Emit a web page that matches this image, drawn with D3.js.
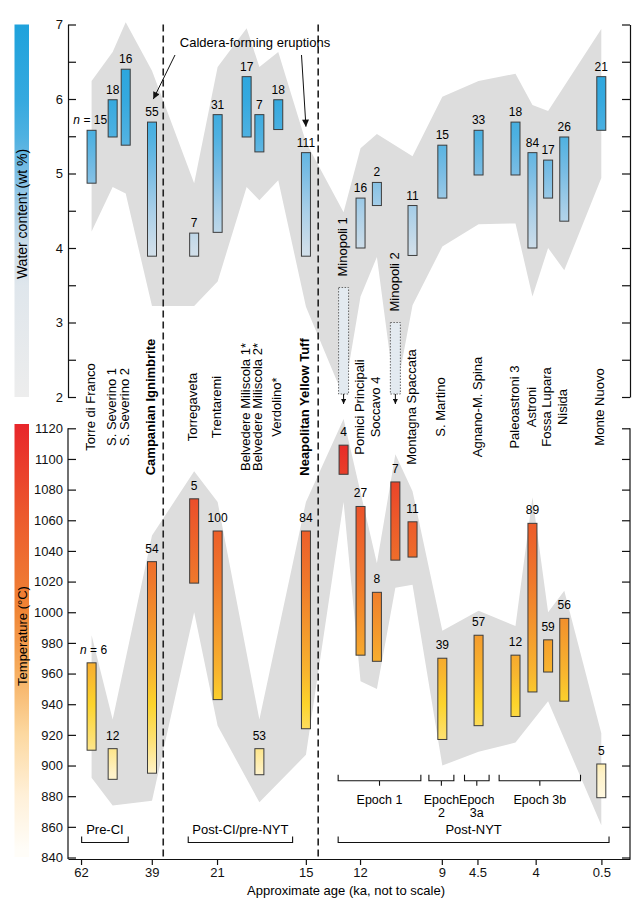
<!DOCTYPE html>
<html>
<head>
<meta charset="utf-8">
<script src="https://cdn.jsdelivr.net/npm/d3@7"></script>
<style>
  body { margin: 0; background: #fff; }
  svg { font-family: "Liberation Sans", Arial, Helvetica, sans-serif; }
</style>
</head>
<body>
<div id="chart"></div>
<script>
// Eruptions left to right, and where they sit on the (not to scale) age axis
const eruptions = ["Torre di Franco", "S. Severino 1", "S. Severino 2", "Campanian Ignimbrite",
  "Torregaveta", "Trentaremi", "Belvedere Miliscola 1*", "Belvedere Miliscola 2*", "Verdolino*",
  "Neapolitan Yellow Tuff", "Minopoli 1", "Pomici Principali", "Soccavo 4", "Minopoli 2",
  "Montagna Spaccata", "S. Martino", "Agnano-M. Spina", "Paleoastroni 3", "Astroni",
  "Fossa Lupara", "Nisida", "Monte Nuovo"];
const slots = [2.35, 4.45, 5.75, 8.37, 12.57, 14.91, 17.8, 19.07, 20.95, 23.71, 27.46,
  29.15, 30.78, 32.62, 34.33, 37.3, 40.91, 44.59, 46.28, 47.84, 49.45, 53.14];
const boldNames = ["Campanian Ignimbrite", "Neapolitan Yellow Tuff"];
const upperLimitOnly = ["Minopoli 1", "Minopoli 2"];   // water only as an upper bound

// Water content (wt %)
const waterLow  = [4.87, 5.49, 5.38, 3.89, 3.89, 4.21, 5.49, 5.29, 5.59, 3.89, 2.04, 4.0, 4.57, 2.04, 3.9, 4.67, 4.98, 4.98, 4.0, 4.67, 4.36, 5.58];
const waterHigh = [5.58, 5.99, 6.4, 5.69, 4.2, 5.79, 6.3, 5.79, 5.99, 5.28, 3.47, 4.67, 4.88, 3.0, 4.57, 5.38, 5.58, 5.69, 5.28, 5.18, 5.49, 6.3];
const waterN    = [15, 18, 16, 55, 7, 31, 17, 7, 18, 111, null, 16, 2, null, 11, 15, 33, 18, 84, 17, 26, 21];
// grey envelope around the water data (null = no vertex there)
const waterEnvHigh = [6.24, 6.63, 7.03, 6.38, 4.87, 6.43, 6.95, 6.43, 6.63, 5.42, 4.48, 5.34, 5.53, null, 5.23, 6.03, 6.24, 6.34, 5.92, 5.84, null, 6.94];
const waterEnvLow  = [4.22, 4.82, 4.73, 3.22, 3.22, 3.55, 4.82, 4.64, 4.91, 3.21, 2.0, 3.35, 3.88, 2.0, 3.23, 4.02, 4.32, 4.33, 3.35, 4.0, 3.7, 4.94];

// Temperature (°C)
const tempLow  = [910, 891, null, 895, 1019, 943, null, 894, null, 924, 1090, 972, 968, 1034, 1036, 917, 926, 932, 948, 961, 942, 879];
const tempHigh = [967, 911, null, 1033, 1074, 1053, null, 911, null, 1053, 1109, 1069, 1013, 1085, 1059, 970, 985, 972, 1058, 982, 996, 901];
const tempN    = [6, 12, null, 54, 5, 100, null, 53, null, 84, 4, 27, 8, 7, 11, 39, 57, 12, 89, 59, 56, 5];
const tempEnvHigh = [985, 930, null, 1050, 1092, 1072, null, 930, null, 1072, 1126, null, 1032, 1103, 1079, 988, 1001, 991, 1075, 1000, 1014, 921];
const tempEnvLow  = [892, 874, null, 877, 1000, 926, null, 876, null, 907, 1072, 955, 950, 1016, 1018, 900, 909, 915, null, 942, null, 861];

// Age axis ticks (ka)
const ageLabels = ["62", "39", "21", "15", "12", "9", "4.5", "4", "0.5"];
const ageSlots  = [1.3, 8.35, 14.85, 23.7, 29.1, 37.25, 40.8, 46.6, 53.15];
const boundarySlots = [9.49, 24.93];   // CI and NYT

const periodNames = ["Pre-CI", "Post-CI/pre-NYT", "Post-NYT"];
const periodFrom  = [1.36, 11.98, 26.92];
const periodTo    = [6.0, 22.38, 53.91];
const epochNames  = [["Epoch 1"], ["Epoch", "2"], ["Epoch", "3a"], ["Epoch 3b"]];
const epochFrom   = [26.92, 35.96, 39.51, 42.96];
const epochTo     = [35.16, 38.45, 41.96, 51.07];

const waterStops = [[7, "#1fa2dc"], [6, "#35a9df"], [5.5, "#4eb1e1"], [5, "#7bbde4"], [4.5, "#a9cfe8"], [4, "#cddde9"], [3.5, "#dfe6ec"], [2, "#ededed"]];
const tempStops = [[1120, "#e61f27"], [1090, "#e9402a"], [1060, "#ec5a2a"], [1020, "#ef782b"], [990, "#f3962d"], [960, "#f8b62f"], [940, "#fcd42b"], [915, "#fde27a"], [895, "#fef2c8"], [870, "#fffbef"], [840, "#ffffff"]];
const tempBarStops = [[1120, "#e8262b"], [1060, "#ec5a2d"], [1000, "#f08535"], [960, "#f6ad5e"], [920, "#fcd8a0"], [880, "#fff0d8"], [845, "#fffdf8"]];

const width = 636, height = 902;
const svg = d3.select("#chart").append("svg").attr("width", width).attr("height", height);

const x = d3.scaleLinear().domain([0, 56]).range([68, 630]);
const yWater = d3.scaleLinear().domain([2, 7]).range([397, 24.5]);
const yTemp = d3.scaleLinear().domain([840, 1120]).range([857.5, 428.3]);
const axisY = 859;
const barW = 9;

const defs = svg.append("defs");
function gradient(id, stops, y, lo, hi) {
  const g = defs.append("linearGradient").attr("id", id)
    .attr("gradientUnits", "userSpaceOnUse")
    .attr("x1", 0).attr("x2", 0).attr("y1", y(hi)).attr("y2", y(lo));
  stops.forEach(s => g.append("stop").attr("offset", (hi - s[0]) / (hi - lo)).attr("stop-color", s[1]));
}
gradient("waterGrad", waterStops, yWater, 2, 7);
gradient("tempGrad", tempStops, yTemp, 840, 1120);
const cbTemp = d3.scaleLinear().domain([840, 1120]).range([857, 424]);
gradient("tempBarGrad", tempBarStops, cbTemp, 840, 1120);

defs.append("marker").attr("id", "arrow")
  .attr("viewBox", "0 0 10 10").attr("refX", 10).attr("refY", 5)
  .attr("markerWidth", 8).attr("markerHeight", 7).attr("markerUnits", "userSpaceOnUse")
  .attr("orient", "auto")
  .append("path").attr("d", "M0,0L10,5L0,10Z").attr("fill", "#111");
defs.append("marker").attr("id", "arrowSmall")
  .attr("viewBox", "0 0 10 10").attr("refX", 10).attr("refY", 5)
  .attr("markerWidth", 6).attr("markerHeight", 5).attr("markerUnits", "userSpaceOnUse")
  .attr("orient", "auto")
  .append("path").attr("d", "M0,0L10,5L0,10Z").attr("fill", "#111");

// colour bars on the left
svg.append("rect").attr("x", 14.5).attr("y", yWater(7)).attr("width", 14.5)
  .attr("height", yWater(2) - yWater(7)).attr("fill", "url(#waterGrad)");
svg.append("rect").attr("x", 14.5).attr("y", cbTemp(1120)).attr("width", 14.5)
  .attr("height", cbTemp(840) - cbTemp(1120)).attr("fill", "url(#tempBarGrad)");
svg.append("text").attr("transform", "translate(22,214) rotate(-90)")
  .attr("text-anchor", "middle").attr("dy", "0.35em").attr("font-size", 14).text("Water content (wt %)");
svg.append("text").attr("transform", "translate(22,636) rotate(-90)")
  .attr("text-anchor", "middle").attr("dy", "0.35em").attr("font-size", 13).text("Temperature (°C)");

// grey envelopes
function envelope(hi, lo, y) {
  const top = [], bottom = [];
  slots.forEach((s, i) => {
    if (hi[i] != null) top.push([x(s), y(hi[i])]);
    if (lo[i] != null) bottom.push([x(s), y(lo[i])]);
  });
  return d3.line()(top.concat(bottom.reverse())) + "Z";
}
svg.append("path").attr("d", envelope(waterEnvHigh, waterEnvLow, yWater)).attr("fill", "#dddddd");
svg.append("path").attr("d", envelope(tempEnvHigh, tempEnvLow, yTemp)).attr("fill", "#dddddd");

// CI and NYT boundaries
svg.selectAll(".boundary").data(boundarySlots).enter().append("line")
  .attr("class", "boundary")
  .attr("x1", d => x(d)).attr("x2", d => x(d))
  .attr("y1", yWater(7)).attr("y2", axisY)
  .attr("stroke", "#222").attr("stroke-width", 1.6).attr("stroke-dasharray", "7,4");

const idx = d3.range(eruptions.length);

// water bars
const wIdx = idx.filter(i => !upperLimitOnly.includes(eruptions[i]));
svg.selectAll(".wbar").data(wIdx).enter().append("rect")
  .attr("class", "wbar")
  .attr("x", i => x(slots[i]) - barW / 2)
  .attr("y", i => yWater(waterHigh[i]))
  .attr("width", barW)
  .attr("height", i => yWater(waterLow[i]) - yWater(waterHigh[i]))
  .attr("fill", "url(#waterGrad)")
  .attr("stroke", "#3c3c3c").attr("stroke-width", 1);

// upper-limit (dotted) water bars with arrows down to temperature
const limIdx = idx.filter(i => upperLimitOnly.includes(eruptions[i]));
svg.selectAll(".lbar").data(limIdx).enter().append("rect")
  .attr("class", "lbar")
  .attr("x", i => x(slots[i]) - barW / 2 - 0.5)
  .attr("y", i => yWater(waterHigh[i]))
  .attr("width", barW + 1)
  .attr("height", i => yWater(waterLow[i]) - yWater(waterHigh[i]))
  .attr("fill", "#e3eaf0")
  .attr("stroke", "#666").attr("stroke-width", 1).attr("stroke-dasharray", "1.5,1.5");
svg.selectAll(".larrow").data(limIdx).enter().append("line")
  .attr("class", "larrow")
  .attr("x1", i => x(slots[i])).attr("x2", i => x(slots[i]))
  .attr("y1", i => yWater(waterLow[i])).attr("y2", i => yWater(waterLow[i]) + 10)
  .attr("stroke", "#111").attr("stroke-width", 1).attr("marker-end", "url(#arrowSmall)");
svg.selectAll(".llabel").data(limIdx).enter().append("text")
  .attr("class", "llabel")
  .attr("transform", i => `translate(${x(slots[i]) - 1},${yWater(waterHigh[i]) - 11}) rotate(-90)`)
  .attr("dy", "0.35em").attr("font-size", 13).text(i => eruptions[i]);

// water n labels
const wnIdx = idx.filter(i => waterN[i] != null);
svg.selectAll(".wn").data(wnIdx).enter().append("text")
  .attr("class", "wn")
  .attr("x", (i, k) => k === 0 ? x(slots[i]) + 15.5 : x(slots[i]))
  .attr("y", i => yWater(waterHigh[i]) - 6)
  .attr("text-anchor", (i, k) => k === 0 ? "end" : "middle")
  .attr("font-size", 12)
  .each(function (i, k) {
    const t = d3.select(this);
    if (k === 0) {
      t.append("tspan").attr("font-style", "italic").text("n");
      t.append("tspan").text(" = " + waterN[i]);
    } else t.text(waterN[i]);
  });

// temperature bars
const tIdx = idx.filter(i => tempHigh[i] != null);
svg.selectAll(".tbar").data(tIdx).enter().append("rect")
  .attr("class", "tbar")
  .attr("x", i => x(slots[i]) - barW / 2)
  .attr("y", i => yTemp(tempHigh[i]))
  .attr("width", barW)
  .attr("height", i => yTemp(tempLow[i]) - yTemp(tempHigh[i]))
  .attr("fill", "url(#tempGrad)")
  .attr("stroke", "#3c3c3c").attr("stroke-width", 1);
svg.selectAll(".tn").data(tIdx).enter().append("text")
  .attr("class", "tn")
  .attr("x", (i, k) => k === 0 ? x(slots[i]) + 15.5 : x(slots[i]))
  .attr("y", i => yTemp(tempHigh[i]) - 9)
  .attr("text-anchor", (i, k) => k === 0 ? "end" : "middle")
  .attr("font-size", 12)
  .each(function (i, k) {
    const t = d3.select(this);
    if (k === 0) {
      t.append("tspan").attr("font-style", "italic").text("n");
      t.append("tspan").text(" = " + tempN[i]);
    } else t.text(tempN[i]);
  });

// eruption names between the panels
const nameIdx = idx.filter(i => !upperLimitOnly.includes(eruptions[i]));
svg.selectAll(".name").data(nameIdx).enter().append("text")
  .attr("class", "name")
  .attr("transform", i => `translate(${x(slots[i]) - 1.5},407) rotate(-90)`)
  .attr("text-anchor", "middle").attr("dy", "0.35em")
  .attr("font-size", 13)
  .attr("font-weight", i => boldNames.includes(eruptions[i]) ? "bold" : "normal")
  .text(i => eruptions[i]);

// caldera-forming annotation
svg.append("text").attr("x", 255).attr("y", 47).attr("text-anchor", "middle")
  .attr("font-size", 13).text("Caldera-forming eruptions");
const ci = eruptions.indexOf("Campanian Ignimbrite"), nyt = eruptions.indexOf("Neapolitan Yellow Tuff");
svg.append("line").attr("x1", 175).attr("y1", 55)
  .attr("x2", x(slots[ci]) + 1.3).attr("y2", yWater(waterHigh[ci]) - 23)
  .attr("stroke", "#111").attr("stroke-width", 1).attr("marker-end", "url(#arrow)");
svg.append("line").attr("x1", 301.5).attr("y1", 55)
  .attr("x2", x(slots[nyt])).attr("y2", yWater(waterHigh[nyt]) - 26)
  .attr("stroke", "#111").attr("stroke-width", 1).attr("marker-end", "url(#arrow)");

// axes
function styleAxis(g) {
  g.selectAll("path, line").attr("stroke", "#111").attr("stroke-width", 1.2);
  g.selectAll("text").attr("font-size", 13).attr("fill", "#111").attr("font-family", null);
}
svg.append("g").attr("transform", `translate(${x(0)},0)`)
  .call(d3.axisLeft(yWater).tickValues(d3.range(2, 7.01, 0.5)).tickSize(-8).tickSizeOuter(0)
    .tickPadding(5).tickFormat(d => Number.isInteger(d) ? d : ""))
  .call(styleAxis);
svg.append("g").attr("transform", `translate(${x(56)},0)`)
  .call(d3.axisRight(yWater).tickValues(d3.range(2, 7.01, 0.5)).tickSize(-8).tickSizeOuter(0).tickFormat(""))
  .call(styleAxis);

const tempTicks = d3.range(840, 1121, 20);
svg.append("g").attr("transform", `translate(${x(0)},0)`)
  .call(d3.axisLeft(yTemp).tickValues(tempTicks).tickSize(-8).tickSizeOuter(0).tickPadding(5)
    .tickFormat(d3.format("d")))
  .call(g => g.select(".domain").remove())
  .call(styleAxis);
svg.append("g").attr("transform", `translate(${x(56)},0)`)
  .call(d3.axisRight(yTemp).tickValues(tempTicks).tickSize(-8).tickSizeOuter(0).tickFormat(""))
  .call(g => g.select(".domain").remove())
  .call(styleAxis);
[0, 56].forEach(s => svg.append("line")
  .attr("x1", x(s)).attr("x2", x(s)).attr("y1", yTemp(1120)).attr("y2", axisY)
  .attr("stroke", "#111").attr("stroke-width", 1.2));

svg.append("g").attr("transform", `translate(0,${axisY})`)
  .call(d3.axisBottom(x).tickValues(ageSlots).tickSize(6).tickSizeOuter(0).tickPadding(3)
    .tickFormat((d, i) => ageLabels[i]))
  .call(styleAxis);
svg.append("text").attr("x", 346).attr("y", 895).attr("text-anchor", "middle")
  .attr("font-size", 13).text("Approximate age (ka, not to scale)");

// period brackets
const brY = 842.5;
periodNames.forEach((name, i) => {
  const x0 = x(periodFrom[i]), x1 = x(periodTo[i]);
  svg.append("path").attr("d", `M${x0},${brY - 6}V${brY}H${x1}V${brY - 6}`)
    .attr("fill", "none").attr("stroke", "#111").attr("stroke-width", 1.1);
  svg.append("text").attr("x", (x0 + x1) / 2).attr("y", 834).attr("text-anchor", "middle")
    .attr("font-size", 13).text(name);
});

// epoch brackets
const epY = 780.7;
epochNames.forEach((lines, i) => {
  const x0 = x(epochFrom[i]), x1 = x(epochTo[i]), xm = (x0 + x1) / 2;
  svg.append("path").attr("d", `M${x0},${epY - 6}V${epY}H${x1}V${epY - 6}M${xm},${epY}V${epY + 5}`)
    .attr("fill", "none").attr("stroke", "#111").attr("stroke-width", 1.1);
  lines.forEach((l, k) => svg.append("text").attr("x", xm).attr("y", 804 + k * 13)
    .attr("text-anchor", "middle").attr("font-size", 12.5).text(l));
});
</script>
</body>
</html>
